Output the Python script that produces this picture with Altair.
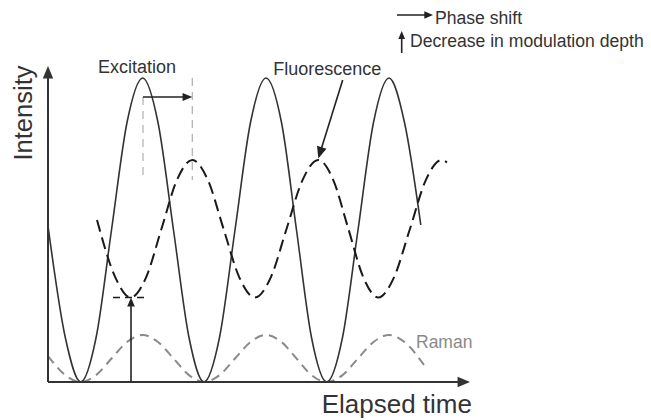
import altair as alt
import pandas as pd

# ---- data (time / intensity in arbitrary units) ----
exc_t = [0, 1.73, 3.27, 4.81, 6.35, 7.9, 9.47, 11.0, 12.55, 14.1, 15.6, 17.15, 18.7, 20.25,
         21.8, 23.35, 24.85, 26.35, 27.87, 29.45, 31.0, 32.55, 34.1, 35.65, 37.28]
exc_i = [15.6, 4.45, 0, 4.45, 15.2, 25.95, 30.4, 25.95, 15.2, 4.45, 0, 4.45, 15.2, 25.95,
         30.4, 25.95, 15.2, 4.45, 0, 4.45, 15.2, 25.95, 30.4, 25.95, 15.7]

flu_t = [4.9, 6.73, 8.27, 9.81, 11.35, 12.89, 14.43, 15.99, 17.55, 19.13, 20.7, 22.28, 23.86,
         25.45, 27.03, 28.53, 30.03, 31.53, 33.03, 34.6, 36.2, 37.78, 39.37, 39.9]
flu_i = [16.2, 10.47, 8.45, 10.47, 15.33, 20.19, 22.2, 20.19, 15.33, 10.47, 8.45, 10.47, 15.33,
         20.19, 22.2, 20.19, 15.33, 10.47, 8.45, 10.47, 15.33, 20.19, 22.2, 21.95]

ram_t = [0, 1.73, 3.27, 4.81, 6.35, 7.9, 9.47, 11.0, 12.55, 14.1, 15.6, 17.15, 18.7, 20.25,
         21.8, 23.35, 24.85, 26.35, 27.87, 29.45, 31.0, 32.55, 34.1, 35.65, 37.6]
ram_i = [2.6, 0.69, 0, 0.69, 2.35, 4.0, 4.7, 4.0, 2.35, 0.69, 0, 0.69, 2.35, 4.0,
         4.7, 4.0, 2.35, 0.69, 0, 0.69, 2.35, 4.0, 4.7, 4.0, 1.7]

# axes (x, y, x2, y2)
axis_x1 = [0, 0]
axis_y1 = [0, 0]
axis_x2 = [0, 41.6]
axis_y2 = [31.2, 0]
axis_head_x = [0, 42.2]
axis_head_y = [31.6, 0]
axis_head_angle = [0, 90]

# annotation arrows
arr_x1 = [9.5, 8.3, 29.47, 34.9, 35.37]
arr_y1 = [28.5, 0, 30.2, 36.7, 32.9]
arr_x2 = [14.2, 8.3, 27.2, 38.3, 35.37]
arr_y2 = [28.5, 8.0, 22.9, 36.7, 34.8]
head_x = [14.43, 8.3, 27.03, 38.5, 35.37]
head_y = [28.5, 8.45, 22.35, 36.7, 35.1]
head_angle = [90, 0, 197, 90, 0]
head_size = [380, 330, 560, 300, 260]

# gray phase guides
guide_x = [9.5, 14.43]
guide_y1 = [28.5, 30.4]
guide_y2 = [20.2, 20.2]

# dashed tick at the fluorescence minimum
tick_x1 = [6.5]
tick_x2 = [10.0]
tick_y = [8.45]

# labels
lab_text = ["Excitation", "Fluorescence", "Phase shift", "Decrease in modulation depth"]
lab_x = [8.9, 27.93, 38.7, 36.2]
lab_y = [31.37, 31.2, 36.3, 34.0]

X = alt.Scale(domain=[0, 42.2], nice=False, zero=False)
Y = alt.Scale(domain=[0, 31.4], nice=False, zero=False)
FONT = "Liberation Sans"
DARK = "#333333"
ARROW = "M0,0L0.42,1L-0.42,1Z"

def xe(f="x"):
    return alt.X(f"{f}:Q", scale=X, axis=None)

def ye(f="y"):
    return alt.Y(f"{f}:Q", scale=Y, axis=None)

exc = pd.DataFrame({"x": exc_t, "y": exc_i})
flu = pd.DataFrame({"x": flu_t, "y": flu_i})
ram = pd.DataFrame({"x": ram_t, "y": ram_i})

exc_line = alt.Chart(exc).mark_line(interpolate="monotone", color=DARK, strokeWidth=1.6).encode(
    x=xe(), y=ye())
flu_line = alt.Chart(flu).mark_line(interpolate="monotone", color="#1a1a1a", strokeWidth=2,
                                    strokeDash=[12, 6]).encode(x=xe(), y=ye())
ram_line = alt.Chart(ram).mark_line(interpolate="monotone", color="#8a8a8a", strokeWidth=2,
                                    strokeDash=[9, 6]).encode(x=xe(), y=ye())

axes_df = pd.DataFrame({"x": axis_x1, "y": axis_y1, "x2": axis_x2, "y2": axis_y2})
axes = alt.Chart(axes_df).mark_rule(color=DARK, strokeWidth=2).encode(
    x=xe(), y=ye(), x2="x2:Q", y2="y2:Q")
axes_heads_df = pd.DataFrame({"x": axis_head_x, "y": axis_head_y, "a": axis_head_angle})
axes_heads = alt.Chart(axes_heads_df).mark_point(shape=ARROW, filled=True, color=DARK, opacity=1,
                                                 size=620, strokeWidth=0).encode(
    x=xe(), y=ye(), angle=alt.Angle("a:Q", scale=None))

guide_df = pd.DataFrame({"x": guide_x, "y": guide_y1, "y2": guide_y2})
guides = alt.Chart(guide_df).mark_rule(color="#b0b0b0", strokeWidth=1.2, strokeDash=[8, 6]).encode(
    x=xe(), y=ye(), y2="y2:Q")

tick_df = pd.DataFrame({"x": tick_x1, "x2": tick_x2, "y": tick_y})
tick = alt.Chart(tick_df).mark_rule(color="#1a1a1a", strokeWidth=1.3, strokeDash=[7, 5]).encode(
    x=xe(), x2="x2:Q", y=ye())

arr_df = pd.DataFrame({"x": arr_x1, "y": arr_y1, "x2": arr_x2, "y2": arr_y2})
arrows = alt.Chart(arr_df).mark_rule(color="#222222", strokeWidth=1.6).encode(
    x=xe(), y=ye(), x2="x2:Q", y2="y2:Q")
heads_df = pd.DataFrame({"x": head_x, "y": head_y, "a": head_angle, "s": head_size})
heads = alt.Chart(heads_df).mark_point(shape=ARROW, filled=True, color="#222222", opacity=1,
                                       strokeWidth=0).encode(
    x=xe(), y=ye(), angle=alt.Angle("a:Q", scale=None), size=alt.Size("s:Q", scale=None, legend=None))

lab_df = pd.DataFrame({"t": lab_text, "x": lab_x, "y": lab_y})
labels_c = alt.Chart(lab_df.iloc[:2]).mark_text(font=FONT, fontSize=18, color=DARK,
                                                 align="center", baseline="middle").encode(
    x=xe(), y=ye(), text="t:N")
labels_l = alt.Chart(lab_df.iloc[2:]).mark_text(font=FONT, fontSize=17.6, color=DARK,
                                                 align="left", baseline="middle").encode(
    x=xe(), y=ye(), text="t:N")

raman_lab = alt.Chart(pd.DataFrame({"t": ["Raman"], "x": [36.8], "y": [3.87]})).mark_text(
    font=FONT, fontSize=17.5, color="#8a8a8a", align="left", baseline="middle").encode(
    x=xe(), y=ye(), text="t:N")

ytitle = alt.Chart(pd.DataFrame({"t": ["Intensity"], "x": [-2.45], "y": [26.9]})).mark_text(
    font=FONT, fontSize=25.5, color=DARK, angle=270, align="center", baseline="middle").encode(
    x=xe(), y=ye(), text="t:N")
xtitle = alt.Chart(pd.DataFrame({"t": ["Elapsed time"], "x": [42.4], "y": [-3.1]})).mark_text(
    font=FONT, fontSize=26, color=DARK, align="right", baseline="alphabetic").encode(
    x=xe(), y=ye(), text="t:N")

chart = alt.layer(
    ram_line, exc_line, flu_line, guides, tick, axes, axes_heads, arrows, heads,
    labels_c, labels_l, raman_lab, ytitle, xtitle
).properties(
    width=422, height=314,
    padding={"left": 40, "top": 60, "right": 173, "bottom": 39},
    autosize=alt.AutoSizeParams(type="none"),
    background="white",
).configure_view(stroke=None)

chart.save("out.html", embed_options={"renderer": "svg", "actions": False})
